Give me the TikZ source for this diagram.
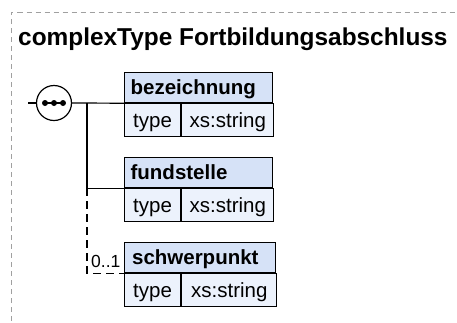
\documentclass[tikz,border=0pt]{standalone}
\usepackage{fontspec}
\setmainfont{Liberation Sans}
\usepackage{tikz}
\usetikzlibrary{positioning}
\definecolor{headblue}{RGB}{214,226,247}
\definecolor{rowblue}{RGB}{236,242,252}
\definecolor{framegray}{RGB}{160,160,160}
\tikzset
{
  elemhead/.style = {draw=black, fill=headblue, line width=1.2pt, anchor=north west, minimum width=148pt, minimum height=30pt, text width=136pt, text height=16pt, text depth=3pt, inner xsep=6pt, align=left, font=\fontsize{20.5}{22}\selectfont\bfseries},
  typecell/.style = {draw=black, fill=rowblue, line width=1.2pt, anchor=north west, minimum width=56pt, minimum height=33pt, text height=16.5pt, text depth=2pt, inner xsep=4pt, font=\fontsize{20.5}{22}\selectfont},
  valcell/.style  = {draw=black, fill=rowblue, line width=1.2pt, anchor=north west, minimum height=33pt, text height=16.5pt, text depth=2pt, inner xsep=4pt, font=\fontsize{20.5}{22}\selectfont},
  seqnode/.style  = {circle, draw=black, fill=white, line width=1.2pt, minimum size=35pt, inner sep=0pt},
  link/.style     = {draw=black, line width=1.2pt}
}
\begin{document}
\begin{tikzpicture}[x=1pt, y=-1pt]
  \useasboundingbox (0,0) rectangle (457,322);
  % frame of the complex type
  \draw[framegray, line width=1pt, dash pattern=on 5pt off 4pt] (11,330) -- (11,12.5) -- (470,12.5);
  \node[anchor=base west, inner sep=0pt, font=\fontsize{24.4}{26}\selectfont\bfseries] (title) at (18,45) {complexType Fortbildungsabschluss};

  % sequence compositor
  \coordinate (in) at (28,103);
  \node[seqnode] (seq) at (54,103) {};
  \draw[line width=1.4pt] ([xshift=-9pt]seq.center) -- ([xshift=9pt]seq.center);
  \foreach \dx in {-9,0,9}
    \fill ([xshift=\dx pt]seq.center) circle (3pt);
  \coordinate (fork) at (87,103);

  % elements
  \node[elemhead] (bezeichnung) at (124,72) {bezeichnung};
  \node[typecell] (bezeichnung-type) at (bezeichnung.south west) {type};
  \node[valcell, minimum width=92pt] (bezeichnung-val) at (bezeichnung-type.north east) {xs:string};

  \node[elemhead] (fundstelle) at (124,157) {fundstelle};
  \node[typecell] (fundstelle-type) at (fundstelle.south west) {type};
  \node[valcell, minimum width=92pt] (fundstelle-val) at (fundstelle-type.north east) {xs:string};

  \node[elemhead, minimum width=151pt] (schwerpunkt) at (124,242) {schwerpunkt};
  \node[typecell] (schwerpunkt-type) at (schwerpunkt.south west) {type};
  \node[valcell, minimum width=95pt] (schwerpunkt-val) at (schwerpunkt-type.north east) {xs:string};

  % connectors
  \draw[link] (in) -- (seq.west);
  \draw[link] (seq.east) -- (bezeichnung.south west);
  \draw[link] (fork) -- (fork |- fundstelle.south west) -- (fundstelle.south west);
  \draw[link, dash pattern=on 8pt off 5pt] (fork |- fundstelle.south west) -- (fork |- schwerpunkt.south west) -- (schwerpunkt.south west);
  \node[anchor=base west, inner sep=0pt, font=\fontsize{17.5}{19}\selectfont] (occurs) at (91,267) {0..1};
\end{tikzpicture}
\end{document}
